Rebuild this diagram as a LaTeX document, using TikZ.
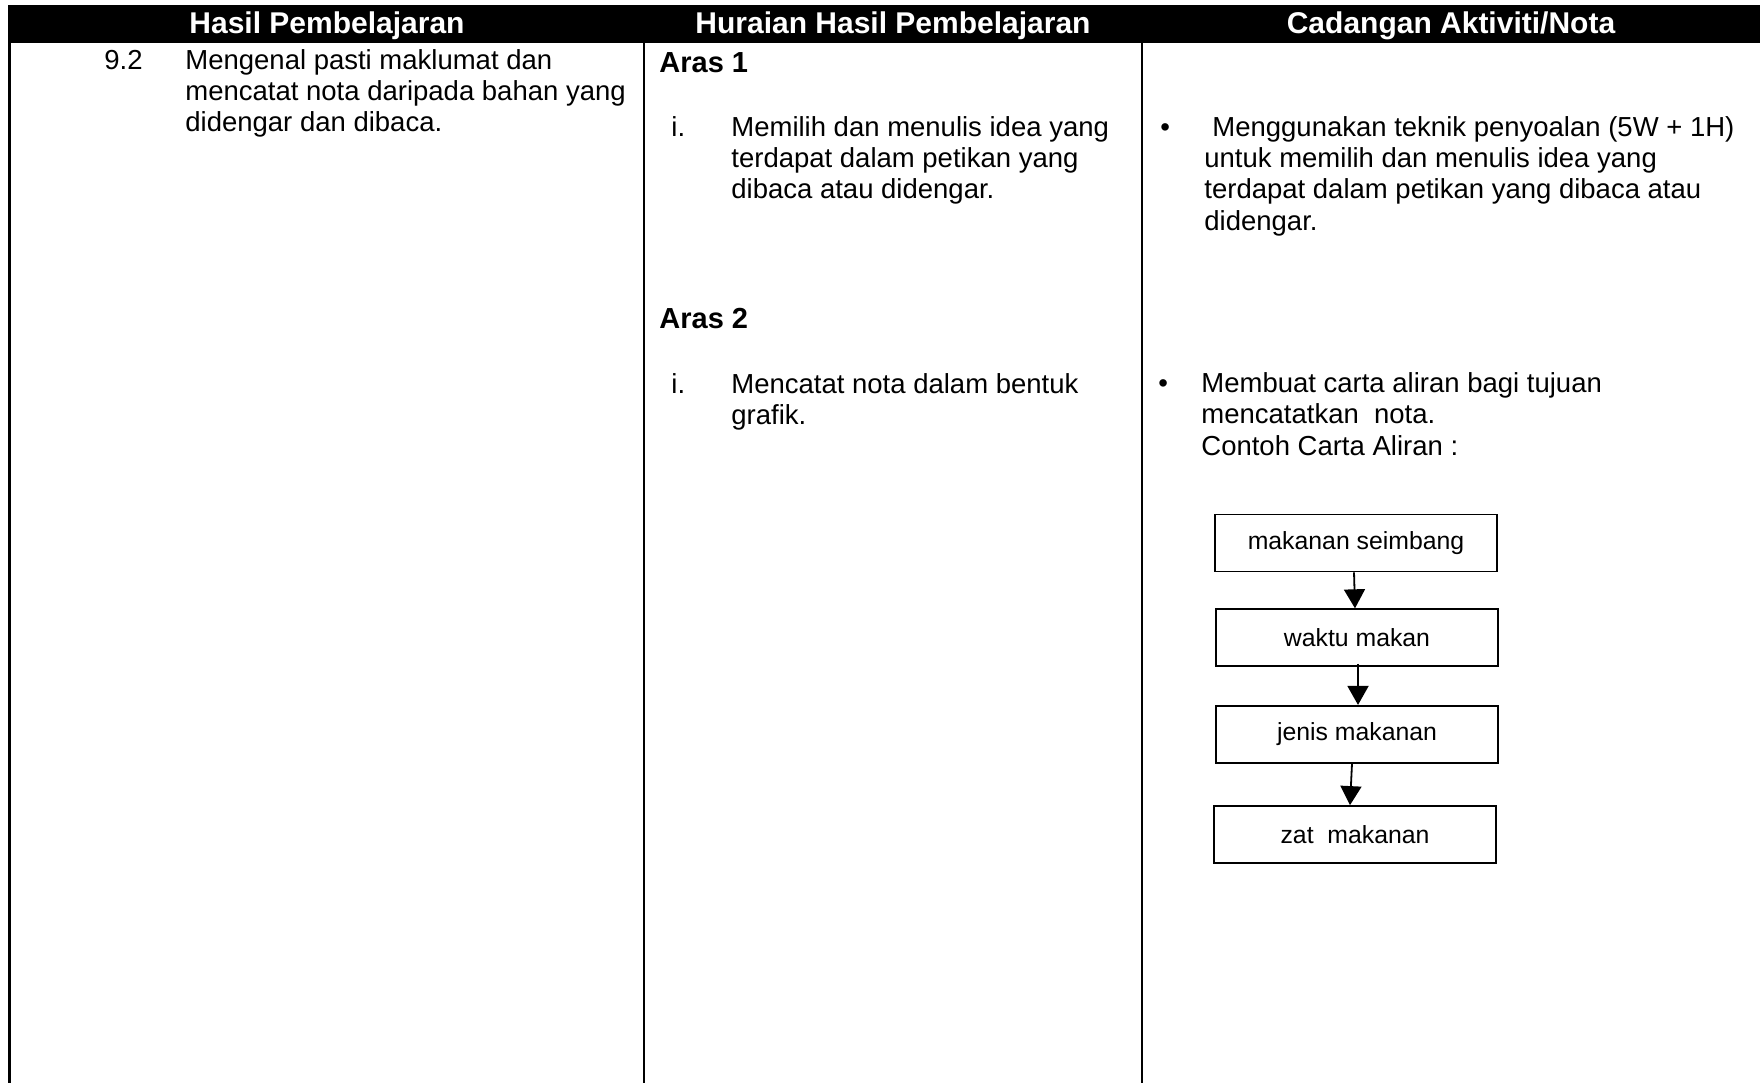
\documentclass[tikz,border=0pt]{standalone}
\usepackage{fontspec}
\setmainfont{Liberation Sans}
\usetikzlibrary{positioning}
\usetikzlibrary{arrows.meta}

\begin{document}
\begin{tikzpicture}[x=0.5pt, y=-0.5pt,
    head/.style={text=white, inner sep=0pt, font=\fontsize{15}{18}\selectfont\bfseries},
    body/.style={anchor=base west, inner sep=0pt, align=left, font=\fontsize{13.75}{15.7}\selectfont},
    aras/.style={anchor=base west, inner sep=0pt, font=\fontsize{14.5}{17}\selectfont\bfseries},
    flowbox/.style={draw, line width=0.8pt, minimum width=141pt, minimum height=28.5pt, inner sep=0pt, font=\fontsize{12.4}{14}\selectfont},
    flow/.style={line width=0.9pt, -{Triangle[width=10.5pt,length=9.5pt]}},
    rule/.style={line width=1.25pt}]

    \useasboundingbox (0,0) rectangle (1760,1083);

    % header
    \fill (8,5) rectangle (1760,43);
    \node(H1)[head] at (327,26) {Hasil Pembelajaran};
    \node(H2)[head] at (893,26) {Huraian Hasil Pembelajaran};
    \node(H3)[head] at (1451,26) {Cadangan Aktiviti/Nota};

    \draw[rule] (9.5,43) -- (9.5,1083);
    \draw[rule] (644,43) -- (644,1083);
    \draw[rule] (1142,43) -- (1142,1083);

    % column 1 (multi-line nodes sit on their last baseline)
    \node(N1)[body] at (104,69) {9.2};
    \node(T1)[body] at (185,131.8) {Mengenal pasti maklumat dan\\mencatat nota daripada bahan yang\\didengar dan dibaca.};

    % column 2
    \node(A1)[aras] at (659,72) {Aras 1};
    \node(I1)[body] at (671,136) {i.};
    \node(D1)[body] at (731,198.8) {Memilih dan menulis idea yang\\terdapat dalam petikan yang\\dibaca atau didengar.};
    \node(A2)[aras] at (659,328) {Aras 2};
    \node(I2)[body] at (671,393) {i.};
    \node(D2)[body] at (731,424.4) {Mencatat nota dalam bentuk\\grafik.};

    % column 3
    \node(B1)[body] at (1160,136) {•};
    \node(C1)[body] at (1204,230.2) {\hspace*{4pt}Menggunakan teknik penyoalan (5W + 1H)\\untuk memilih dan menulis idea yang\\terdapat dalam petikan yang dibaca atau\\didengar.};
    \node(B2)[body] at (1158,392) {•};
    \node(C2)[body] at (1201,455) {Membuat carta aliran bagi tujuan\\mencatatkan\ \ nota.\\Contoh Carta Aliran :};

    % carta aliran
    \node(F1)[flowbox] at (1356,543) {makanan seimbang};
    \node(F2)[flowbox, below=18pt of F1, xshift=0.5pt]{waktu makan};
    \node(F3)[flowbox, below=19pt of F2]{jenis makanan};
    \node(F4)[flowbox, below=20.8pt of F3, xshift=-1pt]{zat\ \ makanan};

    \draw[flow] ([xshift=-1pt]F1.south) -- ([xshift=-1pt]F2.north);
    \draw[flow] ([xshift=0.5pt,yshift=1.5pt]F2.south) -- ([xshift=0.5pt]F3.north);
    \draw[flow] ([xshift=-2.5pt]F3.south) -- ([xshift=-2.5pt]F4.north);

\end{tikzpicture}
\end{document}
